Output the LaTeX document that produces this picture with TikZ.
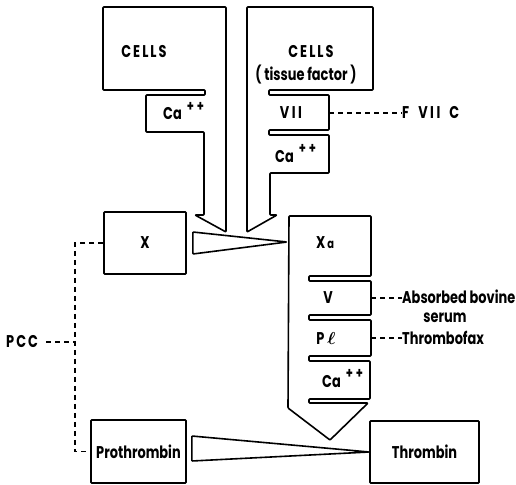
\documentclass[tikz,border=0pt]{standalone}
\usepackage{fontspec}
\setmainfont{Poppins}[FakeStretch=0.76]
\usetikzlibrary{calc}
\begin{document}
\begin{tikzpicture}[x=1pt,y=-1pt,
  outl/.style={line width=1.6pt,line join=round,rounded corners=0.8pt},
  lbl/.style={font=\fontsize{17}{19}\selectfont\bfseries,inner sep=0pt},
  capslbl/.style={lbl,font=\fontsize{17}{19}\selectfont\bfseries\addfontfeature{LetterSpace=12}},
  boxnode/.style={draw,line width=1.6pt,rounded corners=0.8pt,font=\fontsize{17}{19}\selectfont\bfseries,inner sep=0pt},
  dashline/.style={line width=1.4pt,dash pattern=on 5pt off 4pt}]
\useasboundingbox (0,0) rectangle (516,484);
\newcommand\plusplus{\kern5pt\raisebox{9pt}{\fontsize{15}{15}\selectfont +\kern3pt+}}
% left CELLS shape
\draw[outl] (103,7) -- (226,7) -- (226,232) -- (195,215) -- (204,215) -- (204,132)
  -- (146,132) -- (146,95) -- (205,95) -- (205,90) -- (103,90) -- cycle;
% right CELLS shape
\draw[outl] (247,7) -- (373,7) -- (373,90) -- (269,90) -- (269,95) -- (329,95)
  -- (329,130) -- (269,130) -- (269,135) -- (329,135) -- (329,173) -- (270,173)
  -- (270,215) -- (277,215) -- (247,232) -- cycle;
% Xa shape
\draw[outl] (289,216) -- (371,216) -- (371,276) -- (309,276) -- (309,281) -- (371,281)
  -- (371,315) -- (309,315) -- (309,320) -- (371,320) -- (371,356) -- (309,356)
  -- (309,361) -- (370,361) -- (370,399) -- (309,399) -- (309,403) -- (368,403)
  -- (330,440) -- (288,408) -- cycle;
\coordinate (viiR) at (329,113);
\coordinate (vR) at (371,298);
\coordinate (plR) at (371,338);
% texts in shapes
\node[capslbl] (cells1) at (144,52) {CELLS};
\node[capslbl] (cells2) at (311,52) {CELLS};
\node[lbl] (tissue) at (306,75) {(\,tissue factor\,)};
\node[lbl,anchor=base west] (ca1) at (163,120) {Ca\plusplus};
\node[lbl] (vii) at (291,113) {V\kern2.5pt I\kern2.5pt I};
\node[lbl,anchor=base west] (ca2) at (275,162) {Ca\plusplus};
\node[lbl] (xa) at (325,243) {X\kern2pt{\fontsize{13}{15}\selectfont a}};
\node[lbl] (v) at (328,298) {V};
\node[lbl] (pl) at (326,338) {P\,{\boldmath$\ell$}};
\node[lbl,anchor=base west] (ca3) at (322,387) {Ca\plusplus};
% boxes
\node[boxnode,minimum width=82pt,minimum height=62pt] (x) at (145,243) {X};
\node[boxnode,minimum width=95pt,minimum height=63pt] (pro) at (138.5,451.5) {Prothrombin};
\node[boxnode,minimum width=109pt,minimum height=62pt] (thr) at (424.5,452) {Thrombin};
% triangles
\draw[outl] ($(x.east)+(6,-11)$) -- (287,242) -- ($(x.east)+(6,11)$) -- cycle;
\draw[outl] ($(pro.east)+(5,-15.5)$) -- (thr.west) -- ($(pro.east)+(5,9.5)$) -- cycle;
% dashed connections
\node[lbl,anchor=west] (fvii) at (402,113) {F\kern9pt V\kern2.5pt I\kern2.5pt I\kern9pt C};
\draw[dashline] (viiR) -- (fvii.west);
\node[lbl,anchor=west] (abs) at (402,297) {Absorbed bovine};
\node[lbl] (serum) at (445,318) {serum};
\draw[dashline] (vR) -- (abs.west |- vR);
\node[lbl,anchor=west] (tfx) at (402,338) {Thrombofax};
\draw[dashline] (plR) -- (tfx.west);
\node[capslbl,anchor=west] (pcc) at (6,342) {PCC};
\coordinate (pccj) at (75,342);
\draw[dashline] (x.west) -| (pccj) |- (pro.west);
\draw[dashline] ($(pcc.east)+(8,0)$) -- (pccj);
\end{tikzpicture}
\end{document}
